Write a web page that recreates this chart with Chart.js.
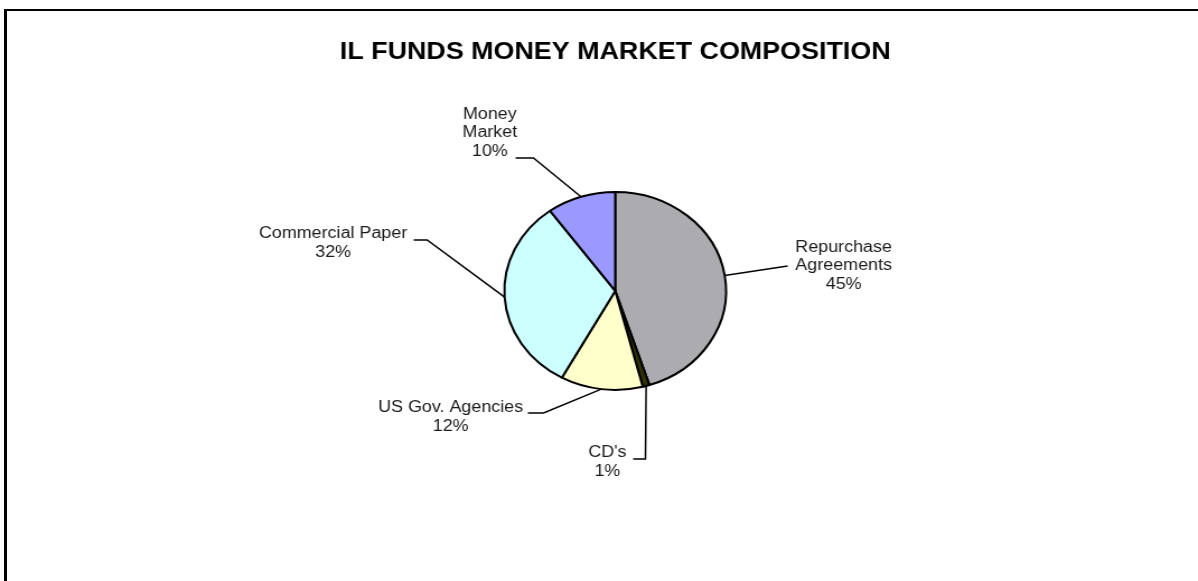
<!DOCTYPE html>
<html>
<head>
<meta charset="utf-8">
<title>IL Funds Money Market Composition</title>
<script src="https://cdn.jsdelivr.net/npm/chart.js@4/dist/chart.umd.min.js"></script>
<style>
    html, body { margin: 0; padding: 0; background: #fff; overflow: hidden; }
    #frame {
        position: absolute; left: 4px; top: 9px; width: 1400px; height: 800px;
        border-left: 3px solid #000; border-top: 2px solid #000;
    }
    /* chart is drawn a bit narrow then widened, like the old sheet export */
    #wrap {
        position: absolute; left: 0; top: 0; width: 1070px; height: 581px;
        transform: scaleX(1.1196); transform-origin: 0 0;
    }
</style>
</head>
<body>
<div id="frame"></div>
<div id="wrap"><canvas id="pieChart"></canvas></div>
<script>
const categories = ["Repurchase Agreements", "CD's", "US Gov. Agencies", "Commercial Paper", "Money Market"];
const shares = [45, 1, 12, 32, 10];
const sliceColors = ["#acacb0", "#333300", "#ffffcc", "#ccffff", "#9999ff"];

// where each label sits, in px from the pie centre (tx,ty = text block centre,
// bx,by = elbow of the leader, ex,ey = end of the leader next to the text)
const labelLayout = [
    { split: true,  tx: 204, ty: -25, bx: 154, by: -25, ex: 154, ey: -25 },
    { split: false, tx: -7,  ty: 171, bx: 27,  by: 168, ex: 16,  ey: 168 },
    { split: false, tx: -147, ty: 126, bx: -64, by: 122, ex: -78, ey: 122 },
    { split: false, tx: -252, ty: -48, bx: -168, by: -51, ex: -180, ey: -51 },
    { split: true,  tx: -112, ty: -158, bx: -73, by: -133, ex: -89, ey: -133 }
];

const FONT = "'Liberation Sans', Arial, sans-serif";

const leaderLabels = {
    id: "leaderLabels",
    afterDatasetsDraw(chart) {
        const ctx = chart.ctx;
        const meta = chart.getDatasetMeta(0);
        const total = shares.reduce((a, b) => a + b, 0);
        ctx.save();
        ctx.strokeStyle = "#000";
        ctx.lineWidth = 1.5;
        ctx.fillStyle = "#1a1a1a";
        ctx.font = "16px " + FONT;
        ctx.textAlign = "center";
        ctx.textBaseline = "middle";
        meta.data.forEach((arc, i) => {
            const p = arc.getProps(["x", "y", "startAngle", "endAngle", "outerRadius"], true);
            const mid = (p.startAngle + p.endAngle) / 2;
            const lay = labelLayout[i];
            const sx = p.x + Math.cos(mid) * p.outerRadius;
            const sy = p.y + Math.sin(mid) * p.outerRadius;

            ctx.beginPath();
            ctx.moveTo(sx, sy);
            ctx.lineTo(p.x + lay.bx, p.y + lay.by);
            ctx.lineTo(p.x + lay.ex, p.y + lay.ey);
            ctx.stroke();

            const lines = lay.split ? categories[i].split(" ") : [categories[i]];
            lines.push(Math.round(shares[i] / total * 100) + "%");
            const lh = 18.5;
            const top = p.y + lay.ty - (lines.length - 1) * lh / 2;
            lines.forEach((t, k) => ctx.fillText(t, p.x + lay.tx, top + k * lh));
        });
        ctx.restore();
    }
};

new Chart(document.getElementById("pieChart"), {
    type: "pie",
    data: {
        labels: categories,
        datasets: [{
            data: shares,
            backgroundColor: sliceColors,
            borderColor: "#000",
            borderWidth: 2,
            radius: 99
        }]
    },
    options: {
        responsive: true,
        maintainAspectRatio: false,
        animation: false,
        events: [],
        layout: { padding: { left: 29, right: 0, top: 0, bottom: 76 } },
        plugins: {
            legend: { display: false },
            tooltip: { enabled: false },
            title: {
                display: true,
                text: "IL FUNDS MONEY MARKET COMPOSITION",
                color: "#000",
                font: { family: FONT, size: 24, weight: "bold" },
                padding: { top: 38, bottom: 10 }
            }
        }
    },
    plugins: [leaderLabels]
});
</script>
</body>
</html>
